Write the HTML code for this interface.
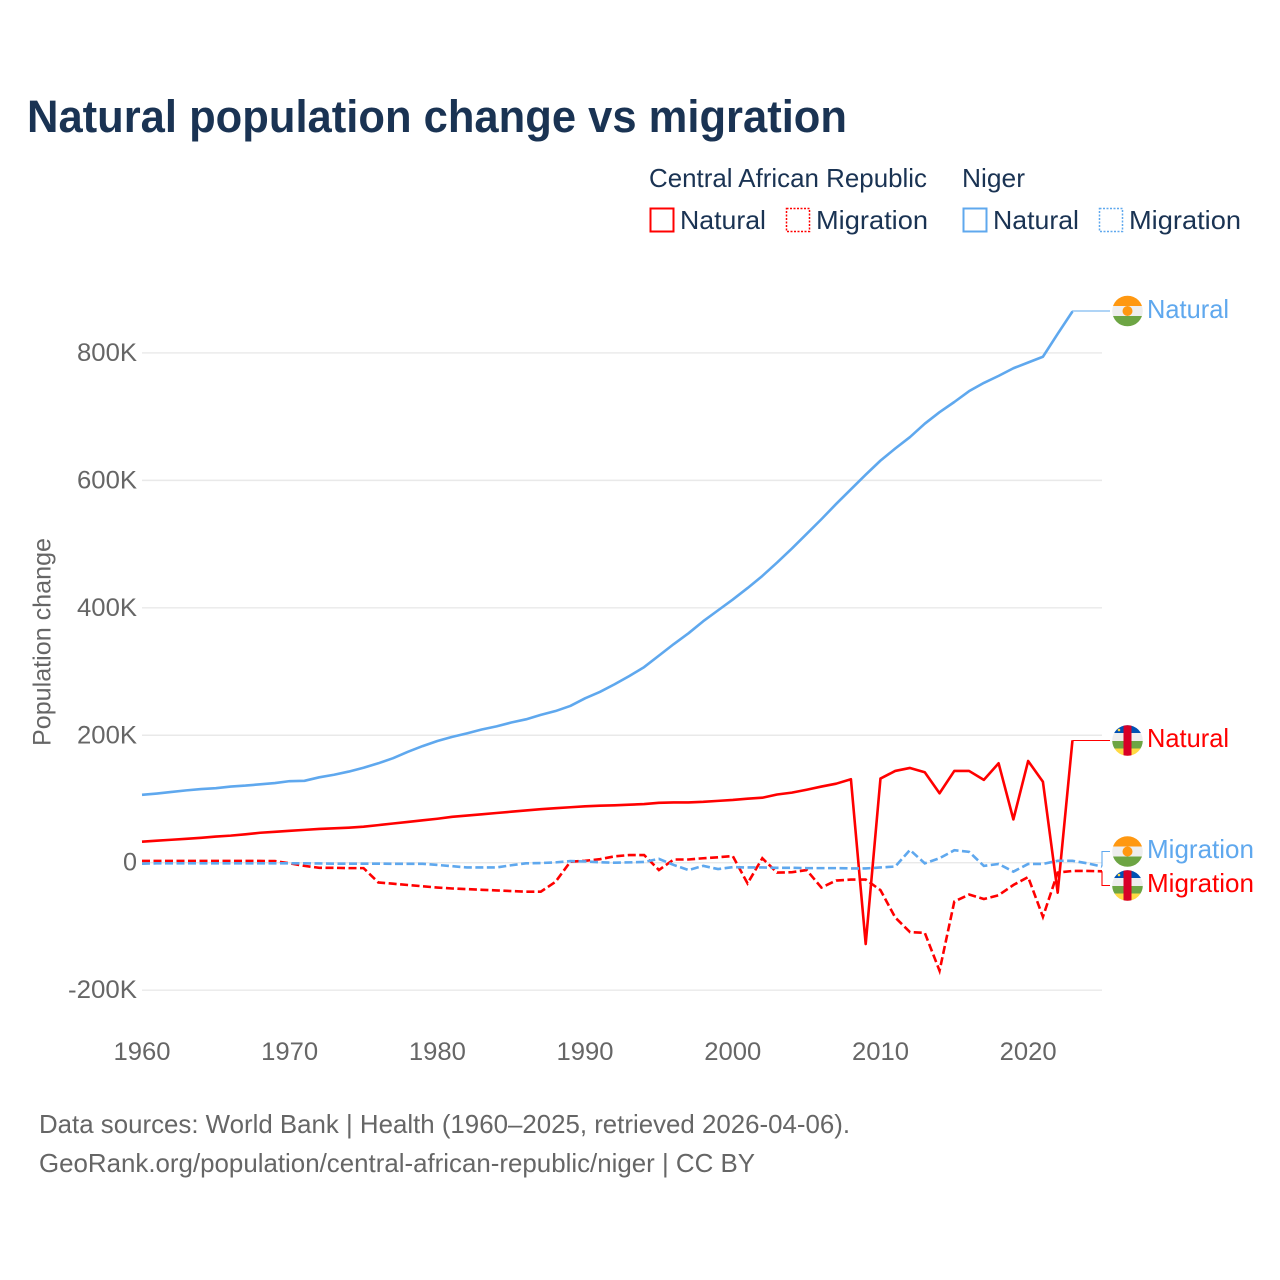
<!DOCTYPE html>
<html lang="en">
<head>
<meta charset="utf-8">
<title>Natural population change vs migration</title>
<style>
html,body{margin:0;padding:0;background:#fff;}
svg{display:block;}
text{font-family:"Liberation Sans",sans-serif;}
</style>
</head>
<body>
<svg id="chart" xmlns="http://www.w3.org/2000/svg" width="1280" height="1280" viewBox="0 0 1280 1280">
<rect x="0" y="0" width="1280" height="1280" fill="#ffffff"/>
<defs>
<clipPath id="clip-a"><circle cx="1127.5" cy="311" r="15.3"/></clipPath>
<clipPath id="clip-b"><circle cx="1127.5" cy="740.5" r="15.3"/></clipPath>
<clipPath id="clip-c"><circle cx="1127.5" cy="851.5" r="15.3"/></clipPath>
<clipPath id="clip-d"><circle cx="1127.5" cy="885.5" r="15.3"/></clipPath>
</defs>

<text x="27" y="132" font-size="45" font-weight="700" fill="#1a3353" textLength="820" lengthAdjust="spacingAndGlyphs">Natural population change vs migration</text>

<g font-size="26" fill="#1a3353">
<text x="649" y="187" textLength="278" lengthAdjust="spacingAndGlyphs">Central African Republic</text>
<text x="962" y="187" textLength="63" lengthAdjust="spacingAndGlyphs">Niger</text>
<rect x="650.5" y="208.5" width="23" height="23" fill="none" stroke="#ff0000" stroke-width="2"/>
<text x="680" y="229" textLength="86" lengthAdjust="spacingAndGlyphs">Natural</text>
<rect x="786.5" y="208.5" width="23" height="23" fill="none" stroke="#ff0000" stroke-width="1.5" stroke-dasharray="2 1.5"/>
<text x="816" y="229" textLength="112" lengthAdjust="spacingAndGlyphs">Migration</text>
<rect x="963.5" y="208.5" width="23" height="23" fill="none" stroke="#5fa8ee" stroke-width="2"/>
<text x="993" y="229" textLength="86" lengthAdjust="spacingAndGlyphs">Natural</text>
<rect x="1099.5" y="208.5" width="23" height="23" fill="none" stroke="#5fa8ee" stroke-width="1.5" stroke-dasharray="2 1.5"/>
<text x="1129" y="229" textLength="112" lengthAdjust="spacingAndGlyphs">Migration</text>
</g>

<text transform="translate(50.5,746) rotate(-90)" font-size="25" fill="#666666" textLength="208" lengthAdjust="spacingAndGlyphs">Population change</text>

<g id="grid"></g>
<g id="yticks"></g>
<g id="xticks"></g>
<g id="connectors"></g>
<g id="series"></g>

<g clip-path="url(#clip-a)">
<rect x="1112" y="295" width="31" height="11" fill="#ff9811"/>
<rect x="1112" y="306" width="31" height="10" fill="#eeeeee"/>
<rect x="1112" y="316" width="31" height="11" fill="#6da544"/>
<circle cx="1127.5" cy="311" r="5" fill="#ff9811"/>
</g>
<text x="1147" y="318" font-size="26" fill="#5fa8ee" textLength="82" lengthAdjust="spacingAndGlyphs">Natural</text>

<g clip-path="url(#clip-b)">
<rect x="1112" y="725" width="31" height="8" fill="#0052b4"/>
<rect x="1112" y="733" width="31" height="8" fill="#eeeeee"/>
<rect x="1112" y="741" width="31" height="7.5" fill="#6da544"/>
<rect x="1112" y="748.5" width="31" height="8" fill="#ffda44"/>
<rect x="1123.5" y="725" width="8" height="32" fill="#d80027"/>
<circle cx="1119" cy="730" r="1.3" fill="#ffda44"/>
</g>
<text x="1147" y="747" font-size="26" fill="#ff0000" textLength="82" lengthAdjust="spacingAndGlyphs">Natural</text>

<g clip-path="url(#clip-c)">
<rect x="1112" y="836" width="31" height="10.5" fill="#ff9811"/>
<rect x="1112" y="846.5" width="31" height="10" fill="#eeeeee"/>
<rect x="1112" y="856.5" width="31" height="11" fill="#6da544"/>
<circle cx="1127.5" cy="851.5" r="5" fill="#ff9811"/>
</g>
<text x="1147" y="858" font-size="26" fill="#5fa8ee" textLength="107" lengthAdjust="spacingAndGlyphs">Migration</text>

<g clip-path="url(#clip-d)">
<rect x="1112" y="870" width="31" height="8" fill="#0052b4"/>
<rect x="1112" y="878" width="31" height="8" fill="#eeeeee"/>
<rect x="1112" y="886" width="31" height="7.5" fill="#6da544"/>
<rect x="1112" y="893.5" width="31" height="8" fill="#ffda44"/>
<rect x="1123.5" y="870" width="8" height="32" fill="#d80027"/>
<circle cx="1119" cy="875" r="1.3" fill="#ffda44"/>
</g>
<text x="1147" y="892" font-size="26" fill="#ff0000" textLength="107" lengthAdjust="spacingAndGlyphs">Migration</text>

<g font-size="26" fill="#666666">
<text x="39" y="1133" textLength="811" lengthAdjust="spacingAndGlyphs">Data sources: World Bank | Health (1960–2025, retrieved 2026-04-06).</text>
<text x="39" y="1172" textLength="716" lengthAdjust="spacingAndGlyphs">GeoRank.org/population/central-african-republic/niger | CC BY</text>
</g>
</svg>

<script>
const yearStart = 1960;
const yearEnd = 2025;
const xTickYears = [1960, 1970, 1980, 1990, 2000, 2010, 2020];
const yTickValues = [-200, 0, 200, 400, 600, 800];
const yTickLabels = ["-200K", "0", "200K", "400K", "600K", "800K"];

const carNatural = [33,34.5,36,37.5,39,41,42.5,44.5,47,48.5,50,51.5,53,54,55,56.5,59,61.5,64,66.5,69,72,74,76,78,80,82,84,85.5,87,88.5,89.5,90,91,92,94,94.5,94.5,95.5,97,98.5,100.5,102,107,110,114.5,119.5,124,131,-127.6,132,144,148.7,142,109,144,144,130,156,68,159.6,127,-47,192];
const carMigration = [2.7,2.7,2.7,2.7,2.7,2.7,2.7,2.7,2.7,2.5,-1,-5,-8,-8,-8.5,-8.5,-31,-33,-35,-37,-39,-40.5,-41.5,-42.5,-43.5,-44.5,-45.5,-45.5,-30,1.5,3,5.5,10,12,12,-11.5,5,5,7,8.5,10.5,-32.5,7,-15.5,-15,-11.5,-39,-28,-26.5,-26.5,-43,-86,-109,-110,-169.5,-61,-50,-57,-51,-35,-22.5,-85,-15.5,-13,-13,-13.5];
const nigerNatural = [106.5,108.5,111,113.5,115.5,117,119.5,121,123,125,128,128.5,134,138,143,149,156,164,174,183,191,197.5,203,209,214,220,225,232,238,246,258,268,280,293,307,325,343,360,379,396,413,431,450,471,493,516,539,563,586,609,631,650,668,689,707,723,740,753,764,776,785,794,830,865];
const nigerMigration = [-1.5,-1,-1,-1,-1,-1,-1,-1,-1,-1,-1,-1,-1.2,-1.5,-1.5,-1.5,-1.5,-1.7,-1.7,-1.7,-3.5,-5.5,-7.5,-7.5,-7.5,-4,-1,-0.5,0.5,2.5,2,0.7,0,0.5,1.2,6,-3.5,-11.5,-5,-10,-7,-7.5,-7.5,-8,-8,-8.5,-8.5,-8.5,-9,-9,-7.5,-6,20,-1,7,19.5,17,-5,-2,-14,-2,-2,3,3,-1,-6];

function xScale(year) {
  return 142 + (year - yearStart) * (1102 - 142) / (yearEnd - yearStart);
}
function yScale(value) {
  return 862.7 - value * 0.6372;
}

const svgNS = "http://www.w3.org/2000/svg";
function make(tag, parentId, attrs, text) {
  const el = document.createElementNS(svgNS, tag);
  Object.keys(attrs).forEach(function (k) { el.setAttribute(k, attrs[k]); });
  if (text !== undefined) el.textContent = text;
  document.getElementById(parentId).appendChild(el);
  return el;
}

yTickValues.forEach(function (v, i) {
  const line = make("line", "grid", {x1: 142, x2: 1102, y1: yScale(v), y2: yScale(v), stroke: "#e9e9e9", "stroke-width": 1.4});
  
  
  const label = make("text", "yticks", {x: 137, y: yScale(v) + 8, "text-anchor": "end", "font-size": 25, fill: "#666666", textLength: yTickLabels[i].length > 4 ? 69 : (yTickLabels[i].length > 1 ? 60 : 14), lengthAdjust: "spacingAndGlyphs"}, yTickLabels[i]);
  
  
});

xTickYears.forEach(function (yr) {
  const label = make("text", "xticks", {x: xScale(yr), y: 1060, "text-anchor": "middle", "font-size": 25, fill: "#666666", textLength: 57, lengthAdjust: "spacingAndGlyphs"}, String(yr));
  
  
});

function linePath(values) {
  return values.map(function (v, i) {
    return (i ? "L" : "M") + xScale(yearStart + i).toFixed(2) + " " + yScale(v).toFixed(2);
  }).join(" ");
}

const pathCarNatural = make("path", "series", {d: linePath(carNatural), fill: "none", stroke: "#ff0000", "stroke-width": 2.6, "stroke-linejoin": "round"});


const pathCarMigration = make("path", "series", {d: linePath(carMigration), fill: "none", stroke: "#ff0000", "stroke-width": 2.6, "stroke-dasharray": "8 3.5"});


const pathNigerNatural = make("path", "series", {d: linePath(nigerNatural), fill: "none", stroke: "#5fa8ee", "stroke-width": 2.6, "stroke-linejoin": "round"});


const pathNigerMigration = make("path", "series", {d: linePath(nigerMigration), fill: "none", stroke: "#5fa8ee", "stroke-width": 2.6, "stroke-dasharray": "8 3.5"});



function connector(values, labelY, color) {
  const i = values.length - 1;
  const x0 = xScale(yearStart + i);
  const y0 = yScale(values[i]);
  return make("path", "connectors", {d: "M" + x0.toFixed(2) + " " + y0.toFixed(2) + " L" + x0.toFixed(2) + " " + labelY + " L1110 " + labelY, fill: "none", stroke: color, "stroke-width": 1.1});
}
const connA = connector(nigerNatural, 311, "#5fa8ee");


const connB = connector(carNatural, 740.5, "#ff0000");


const connC = connector(nigerMigration, 851.5, "#5fa8ee");


const connD = connector(carMigration, 885.5, "#ff0000");


</script>
</body>
</html>
